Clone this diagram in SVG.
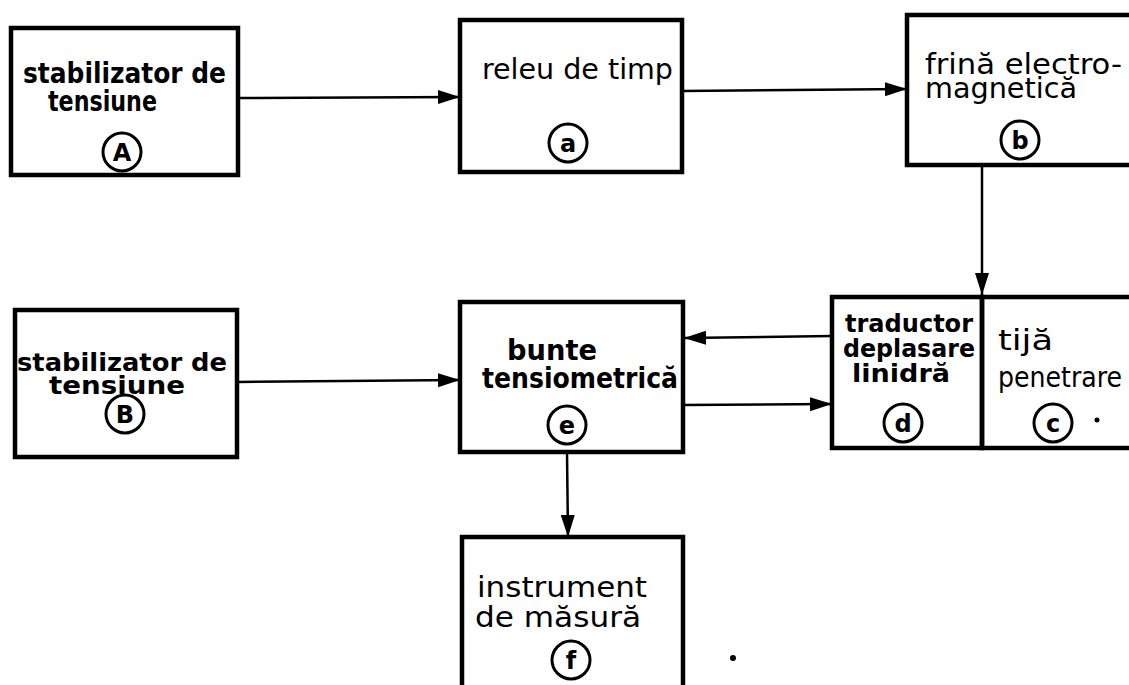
<svg xmlns="http://www.w3.org/2000/svg" width="1129" height="685" viewBox="0 0 1129 685">
<style>
.box{fill:none;stroke:#000;stroke-width:4.5}
.lbl{font-family:"DejaVu Sans Condensed","DejaVu Sans","Liberation Sans",sans-serif;font-size:28px;fill:#000}
.sm{font-size:25px}
.b{font-weight:bold}
.cir{fill:none;stroke:#000;stroke-width:3}
.ct{font-family:"DejaVu Sans","Liberation Sans",sans-serif;font-size:24px;font-weight:bold;fill:#000;text-anchor:middle}
.con{fill:none;stroke:#000;stroke-width:2.5}
</style>
<defs>
<marker id="ah" markerUnits="userSpaceOnUse" markerWidth="24" markerHeight="16" refX="22" refY="7" orient="auto">
<path d="M0,0 L22,7 L0,14 Z" fill="#000"/>
</marker>
</defs>
<rect width="1129" height="685" fill="#fff"/>
<g id="connectors">
<line class="con" x1="238" y1="98" x2="460" y2="97" marker-end="url(#ah)"/>
<line class="con" x1="682" y1="91" x2="907" y2="89" marker-end="url(#ah)"/>
<line class="con" x1="982" y1="165" x2="982" y2="295" marker-end="url(#ah)"/>
<line class="con" x1="237" y1="382" x2="460" y2="380" marker-end="url(#ah)"/>
<line class="con" x1="832" y1="336" x2="684" y2="338" marker-end="url(#ah)"/>
<line class="con" x1="683" y1="405" x2="832" y2="404" marker-end="url(#ah)"/>
<line class="con" x1="567" y1="452" x2="568" y2="537" marker-end="url(#ah)"/>
</g>
<g id="nodeA">
<rect class="box" x="11" y="28" width="227" height="147"/>
<text class="lbl b" x="23" y="83" textLength="203" lengthAdjust="spacingAndGlyphs">stabilizator de</text>
<text class="lbl b" x="48" y="111" textLength="109" lengthAdjust="spacingAndGlyphs">tensiune</text>
<circle class="cir" cx="122" cy="152" r="19"/>
<text class="ct" x="122" y="161">A</text>
</g>
<g id="node_a">
<rect class="box" x="460" y="20" width="222" height="152"/>
<text class="lbl" x="482" y="79" textLength="191" lengthAdjust="spacingAndGlyphs">releu de timp</text>
<circle class="cir" cx="568" cy="143" r="19"/>
<text class="ct" x="568" y="152">a</text>
</g>
<g id="node_b">
<rect class="box" x="907" y="15" width="240" height="150"/>
<text class="lbl" x="925" y="74" textLength="197" lengthAdjust="spacingAndGlyphs">frină electro-</text>
<text class="lbl" x="925" y="98" textLength="152" lengthAdjust="spacingAndGlyphs">magnetică</text>
<circle class="cir" cx="1020" cy="140" r="19"/>
<text class="ct" x="1020" y="149">b</text>
</g>
<g id="nodeB">
<rect class="box" x="15" y="310" width="222" height="147"/>
<text class="lbl b sm" x="17" y="371" textLength="210" lengthAdjust="spacingAndGlyphs">stabilizator de</text>
<text class="lbl b sm" x="49" y="394" textLength="136" lengthAdjust="spacingAndGlyphs">tensiune</text>
<circle class="cir" cx="125" cy="414" r="19"/>
<text class="ct" x="125" y="423">B</text>
</g>
<g id="node_e">
<rect class="box" x="460" y="302" width="223" height="150"/>
<text class="lbl b" x="507" y="360" textLength="90" lengthAdjust="spacingAndGlyphs">bunte</text>
<text class="lbl b" x="482" y="388" textLength="196" lengthAdjust="spacingAndGlyphs">tensiometrică</text>
<circle class="cir" cx="567" cy="425" r="19"/>
<text class="ct" x="567" y="434">e</text>
</g>
<g id="node_d">
<rect class="box" x="832" y="297" width="150" height="151"/>
<text class="lbl b sm" x="845" y="332" textLength="128" lengthAdjust="spacingAndGlyphs">traductor</text>
<text class="lbl b sm" x="843" y="357" textLength="132" lengthAdjust="spacingAndGlyphs">deplasare</text>
<text class="lbl b sm" x="852" y="382" textLength="98" lengthAdjust="spacingAndGlyphs">linidră</text>
<circle class="cir" cx="903" cy="423" r="19"/>
<text class="ct" x="903" y="432">d</text>
</g>
<g id="node_c">
<rect class="box" x="982" y="297" width="170" height="151"/>
<text class="lbl" x="998" y="350" textLength="55" lengthAdjust="spacingAndGlyphs">tijă</text>
<text class="lbl" x="998" y="387" textLength="124" lengthAdjust="spacingAndGlyphs">penetrare</text>
<circle class="cir" cx="1053" cy="423" r="19"/>
<text class="ct" x="1053" y="432">c</text>
<circle cx="1097" cy="420" r="2.5" fill="#000"/>
</g>
<g id="node_f">
<rect class="box" x="462" y="537" width="221" height="160"/>
<text class="lbl" x="477" y="597" textLength="170" lengthAdjust="spacingAndGlyphs">instrument</text>
<text class="lbl" x="475" y="627" textLength="166" lengthAdjust="spacingAndGlyphs">de măsură</text>
<circle class="cir" cx="571" cy="660" r="19"/>
<text class="ct" x="571" y="669">f</text>
</g>
<circle cx="733" cy="658" r="3" fill="#000"/>
</svg>
